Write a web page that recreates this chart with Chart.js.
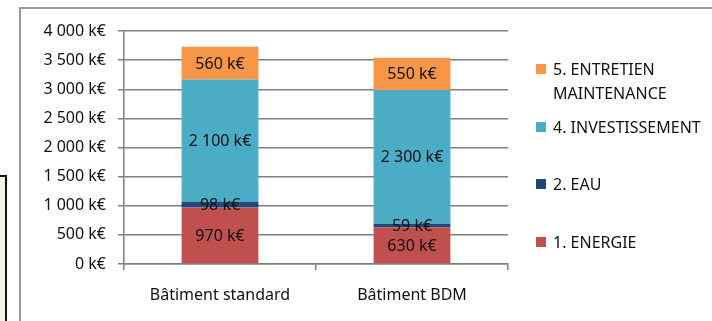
<!DOCTYPE html>
<html>
<head>
<meta charset="utf-8">
<script src="https://cdn.jsdelivr.net/npm/chart.js@4/dist/chart.umd.min.js"></script>
<style>
  html, body { margin: 0; padding: 0; background: #ffffff; }
  body { width: 712px; height: 321px; position: relative; overflow: hidden; font-family: "Noto Sans", sans-serif; }
  #sidebox { position: absolute; left: -10px; top: 175px; width: 13px; height: 200px; background: #f1f3e6; border: 2px solid #111; }
  #frame { position: absolute; left: 19px; top: 7px; width: 720px; height: 330px; border-left: 2px solid #9a9a9a; border-top: 2px solid #9a9a9a; }
  #wrap { position: absolute; left: 0; top: 0; width: 712px; height: 321px; }
  #legend { position: absolute; left: 0; top: 0; }
  .item { position: absolute; left: 536px; font-size: 16px; line-height: 24px; color: #111; white-space: nowrap; }
  .sw { position: absolute; left: 0; top: 7px; width: 10px; height: 10px; }
  .txt { position: absolute; left: 17px; top: 0; }
</style>
</head>
<body>
<div id="sidebox"></div>
<div id="frame"></div>
<div id="wrap"><canvas id="c" width="712" height="321"></canvas></div>
<div id="legend"></div>
<script>
// ---- data ----
const categories = ["Bâtiment standard", "Bâtiment BDM"];
const energie = [970, 630];
const eau = [98, 59];
const investissement = [2100, 2300];
const entretien = [560, 550];
const seriesNames = ["1. ENERGIE", "2. EAU", "4. INVESTISSEMENT", "5. ENTRETIEN\nMAINTENANCE"];
const yTicks = [0, 500, 1000, 1500, 2000, 2500, 3000, 3500, 4000];

const colors = ["#C0504D", "#1F497D", "#4BACC6", "#F79646"];
const FONT = "Noto Sans";

function fmt(v) {
  return String(v).replace(/\B(?=(\d{3})+(?!\d))/g, " ") + " k€";
}

const seriesData = [energie, eau, investissement, entretien];

const labelPlugin = {
  id: "segLabels",
  afterDatasetsDraw(chart) {
    const ctx = chart.ctx;
    ctx.save();
    ctx.font = "16px '" + FONT + "'";
    ctx.fillStyle = "#111";
    ctx.textAlign = "center";
    ctx.textBaseline = "middle";
    chart.data.datasets.forEach((ds, i) => {
      const meta = chart.getDatasetMeta(i);
      meta.data.forEach((bar, j) => {
        const p = bar.getProps(["x", "y", "base"], true);
        ctx.fillText(fmt(ds.data[j]), p.x, (p.y + p.base) / 2 + 1);
      });
    });
    ctx.restore();
  }
};

const chart = new Chart(document.getElementById("c"), {
  type: "bar",
  data: {
    labels: categories,
    datasets: seriesData.map((d, i) => ({
      label: seriesNames[i],
      data: d,
      backgroundColor: colors[i],
      borderWidth: 0,
      categoryPercentage: 1,
      barPercentage: 0.4
    }))
  },
  options: {
    responsive: false,
    animation: false,
    devicePixelRatio: 1,
    layout: { padding: { left: 0, right: 204, top: 31, bottom: 0 } },
    plugins: { legend: { display: false }, tooltip: { enabled: false } },
    scales: {
      x: {
        stacked: true,
        grid: { display: true, drawOnChartArea: false, drawTicks: true, tickLength: 6, color: "#7f7f7f", lineWidth: 1.5 },
        border: { display: true, color: "#7f7f7f", width: 1.5 },
        ticks: { color: "#111", font: { family: FONT, size: 16 }, padding: 16, maxRotation: 0 },
        afterFit(scale) { scale.height = 57; }
      },
      y: {
        stacked: true,
        min: 0, max: 4000,
        afterBuildTicks(scale) { scale.ticks = yTicks.map(v => ({ value: v })); },
        grid: { color: "#7f7f7f", lineWidth: 1.5, drawTicks: true, tickLength: 6 },
        border: { display: true, color: "#7f7f7f", width: 1.5 },
        ticks: { color: "#111", font: { family: FONT, size: 16 }, padding: 12, callback: v => fmt(v) },
        afterFit(scale) { scale.width = 124; }
      }
    }
  },
  plugins: [labelPlugin]
});

// HTML legend (top to bottom: reversed series order)
const legendTops = [57, 115, 172, 230]; // for series 3,2,1,0
const legend = document.getElementById("legend");
[3, 2, 1, 0].forEach((si, k) => {
  const it = document.createElement("div");
  it.className = "item";
  it.style.top = legendTops[k] + "px";
  const sw = document.createElement("div");
  sw.className = "sw";
  sw.style.background = colors[si];
  const tx = document.createElement("div");
  tx.className = "txt";
  tx.innerHTML = seriesNames[si].split("\n").join("<br>");
  it.appendChild(sw);
  it.appendChild(tx);
  legend.appendChild(it);
});
</script>
</body>
</html>
